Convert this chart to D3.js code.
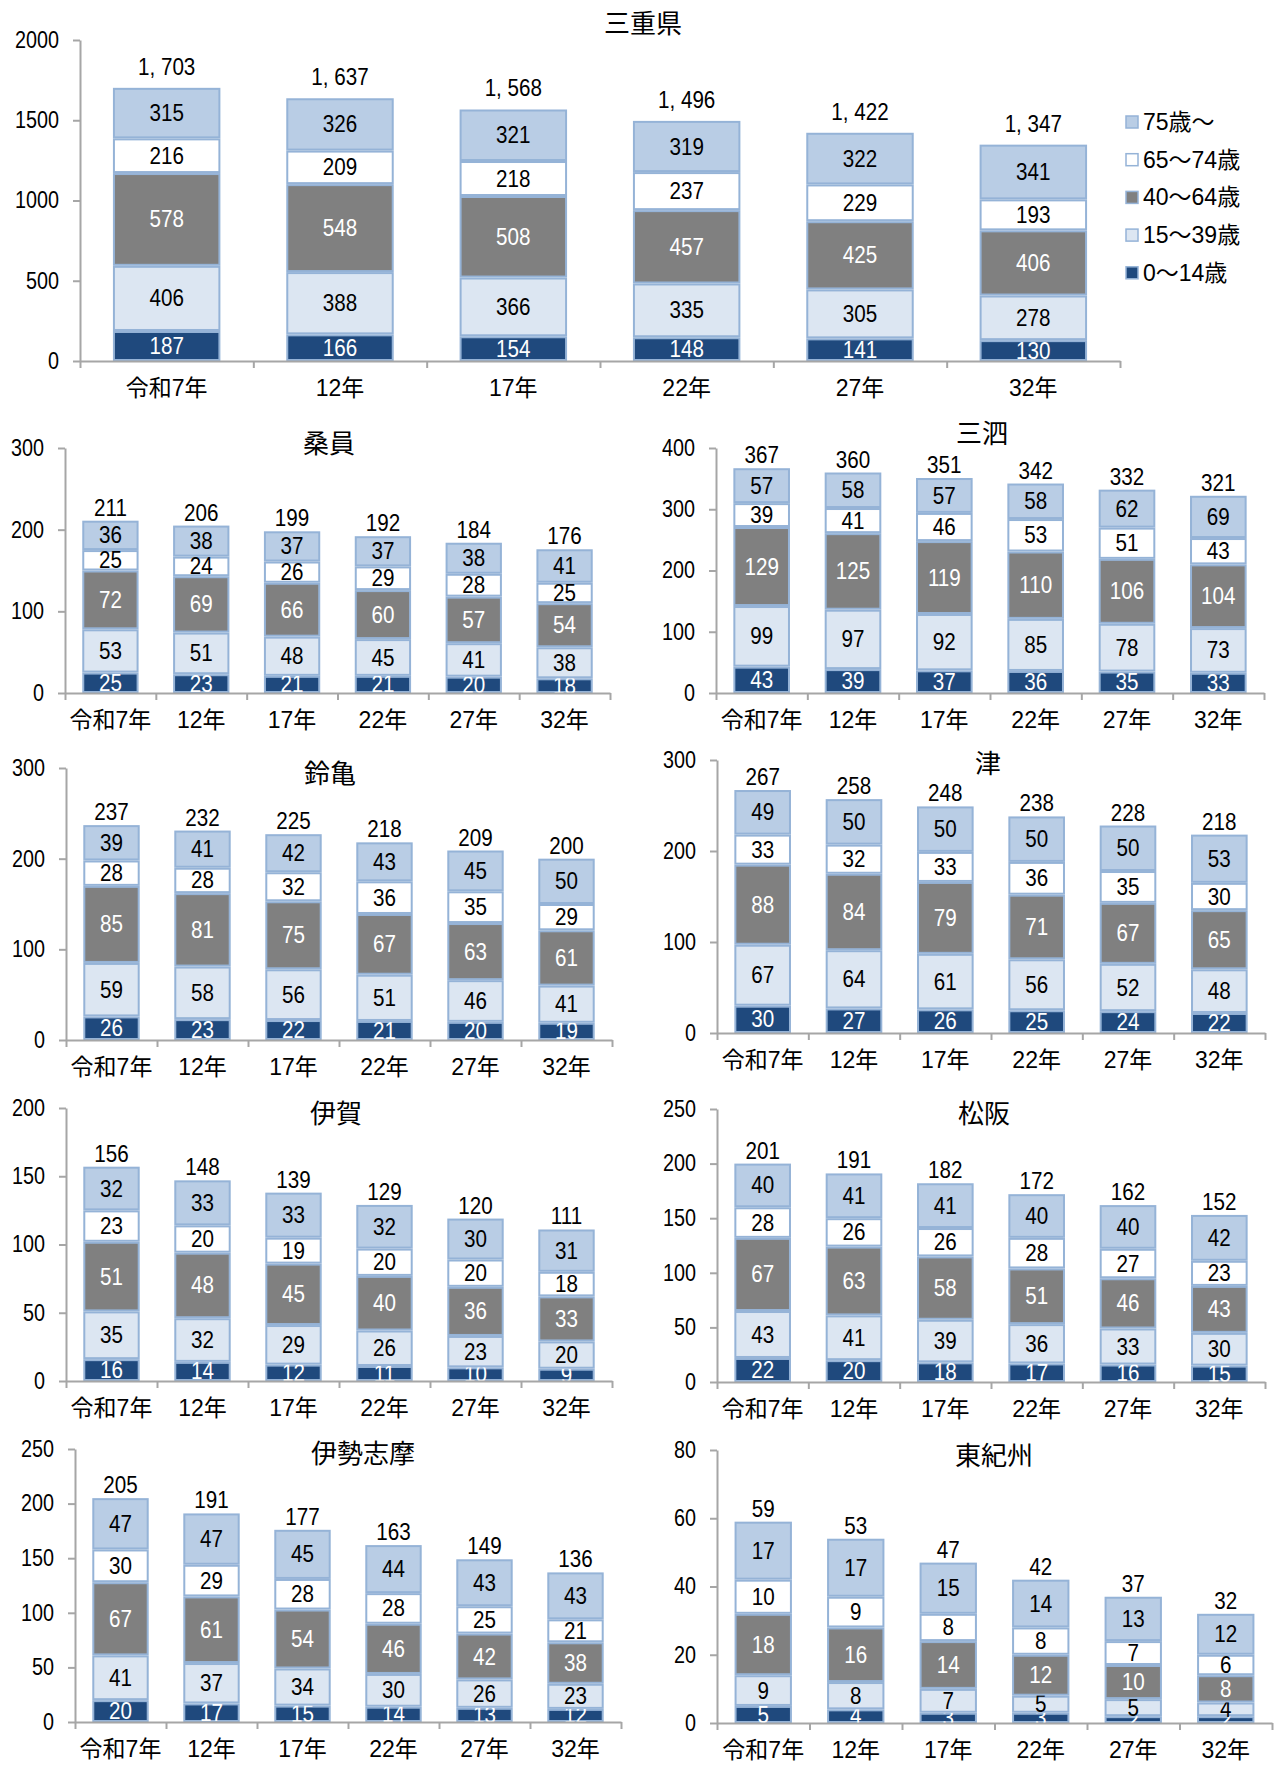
<!DOCTYPE html>
<html>
<head>
<meta charset="utf-8">
<script src="https://cdn.jsdelivr.net/npm/d3@7"></script>
<style>
  body { margin: 0; background: #fff; }
  svg { display: block; }
  text { font-family: "Liberation Sans", "Noto Sans CJK JP", sans-serif; }
</style>
</head>
<body>
<div id="chart"></div>
<script>
// data
const years = ["令和7年", "12年", "17年", "22年", "27年", "32年"];
const ageGroups = ["0～14歳", "15～39歳", "40～64歳", "65～74歳", "75歳～"];
const regions = ["三重県", "桑員", "三泗", "鈴亀", "津", "伊賀", "松阪", "伊勢志摩", "東紀州"];

// one row per region, in the order of regions
const age0_14 = [
  [187, 166, 154, 148, 141, 130],
  [25, 23, 21, 21, 20, 18],
  [43, 39, 37, 36, 35, 33],
  [26, 23, 22, 21, 20, 19],
  [30, 27, 26, 25, 24, 22],
  [16, 14, 12, 11, 10, 9],
  [22, 20, 18, 17, 16, 15],
  [20, 17, 15, 14, 13, 12],
  [5, 4, 3, 3, 2, 2]
];
const age15_39 = [
  [406, 388, 366, 335, 305, 278],
  [53, 51, 48, 45, 41, 38],
  [99, 97, 92, 85, 78, 73],
  [59, 58, 56, 51, 46, 41],
  [67, 64, 61, 56, 52, 48],
  [35, 32, 29, 26, 23, 20],
  [43, 41, 39, 36, 33, 30],
  [41, 37, 34, 30, 26, 23],
  [9, 8, 7, 5, 5, 4]
];
const age40_64 = [
  [578, 548, 508, 457, 425, 406],
  [72, 69, 66, 60, 57, 54],
  [129, 125, 119, 110, 106, 104],
  [85, 81, 75, 67, 63, 61],
  [88, 84, 79, 71, 67, 65],
  [51, 48, 45, 40, 36, 33],
  [67, 63, 58, 51, 46, 43],
  [67, 61, 54, 46, 42, 38],
  [18, 16, 14, 12, 10, 8]
];
const age65_74 = [
  [216, 209, 218, 237, 229, 193],
  [25, 24, 26, 29, 28, 25],
  [39, 41, 46, 53, 51, 43],
  [28, 28, 32, 36, 35, 29],
  [33, 32, 33, 36, 35, 30],
  [23, 20, 19, 20, 20, 18],
  [28, 26, 26, 28, 27, 23],
  [30, 29, 28, 28, 25, 21],
  [10, 9, 8, 8, 7, 6]
];
const age75plus = [
  [315, 326, 321, 319, 322, 341],
  [36, 38, 37, 37, 38, 41],
  [57, 58, 57, 58, 62, 69],
  [39, 41, 42, 43, 45, 50],
  [49, 50, 50, 50, 50, 53],
  [32, 33, 33, 32, 30, 31],
  [40, 41, 41, 40, 40, 42],
  [47, 47, 45, 44, 43, 43],
  [17, 17, 15, 14, 13, 12]
];
const totals = [
  [1703, 1637, 1568, 1496, 1422, 1347],
  [211, 206, 199, 192, 184, 176],
  [367, 360, 351, 342, 332, 321],
  [237, 232, 225, 218, 209, 200],
  [267, 258, 248, 238, 228, 218],
  [156, 148, 139, 129, 120, 111],
  [201, 191, 182, 172, 162, 152],
  [205, 191, 177, 163, 149, 136],
  [59, 53, 47, 42, 37, 32]
];
const yMax = [2000, 300, 400, 300, 300, 200, 250, 250, 80];
const yStep = [500, 100, 100, 100, 100, 50, 50, 50, 20];

// layout of each panel (plot area and title position)
const panels = [
  {x0: 80,  x1: 1120, top: 40,   bot: 361,  tx: 643, ty: 33,   gap: 13},
  {x0: 65,  x1: 610,  top: 448,  bot: 693,  tx: 329, ty: 453,  gap: 5},
  {x0: 716, x1: 1264, top: 448,  bot: 693,  tx: 982, ty: 443,  gap: 5},
  {x0: 66,  x1: 612,  top: 768,  bot: 1040, tx: 330, ty: 783,  gap: 5},
  {x0: 717, x1: 1265, top: 760,  bot: 1033, tx: 988, ty: 773,  gap: 5},
  {x0: 66,  x1: 612,  top: 1108, bot: 1381, tx: 336, ty: 1123, gap: 5},
  {x0: 717, x1: 1265, top: 1109, bot: 1382, tx: 984, ty: 1123, gap: 5},
  {x0: 75,  x1: 621,  top: 1449, bot: 1722, tx: 363, ty: 1463, gap: 5},
  {x0: 717, x1: 1272, top: 1450, bot: 1723, tx: 994, ty: 1465, gap: 5}
];

const colors = ["#1F497D", "#DCE6F2", "#808080", "#FFFFFF", "#B9CDE5"];
const labelColors = ["#fff", "#000", "#fff", "#000", "#000"];
const barStroke = "#95B3D7";
const axisColor = "#A6A6A6";
const fs = 24;
const sx = 0.86; // narrow digits like the original font

const svg = d3.select("#chart").append("svg")
  .attr("width", 1277)
  .attr("height", 1765);

const series = [age0_14, age15_39, age40_64, age65_74, age75plus];

regions.forEach((name, r) => {
  const p = panels[r];
  const rows = years.map((yr, i) => {
    const o = {year: yr};
    ageGroups.forEach((k, j) => { o[k] = series[j][r][i]; });
    return o;
  });
  const stacked = d3.stack().keys(ageGroups)(rows);

  const x = d3.scaleBand().domain(years).range([p.x0, p.x1])
    .paddingInner(0.38).paddingOuter(0.19);
  const y = d3.scaleLinear().domain([0, yMax[r]]).range([p.bot, p.top]);
  const xb = d3.scaleLinear().domain([0, years.length]).range([p.x0, p.x1]);

  const g = svg.append("g").attr("class", "panel");

  // bars
  stacked.forEach((s, j) => {
    const sg = g.append("g");
    sg.selectAll("rect").data(s).enter().append("rect")
      .attr("x", d => x(d.data.year) + 1)
      .attr("y", d => y(d[1]) + 1)
      .attr("width", x.bandwidth() - 2)
      .attr("height", d => Math.max(0, y(d[0]) - y(d[1]) - 2))
      .attr("fill", colors[j])
      .attr("stroke", barStroke)
      .attr("stroke-width", 2);
    sg.selectAll("text").data(s).enter().append("text")
      .attr("transform", d => `translate(${x(d.data.year) + x.bandwidth() / 2},${(y(d[0]) + y(d[1])) / 2}) scale(${sx},1)`)
      .attr("text-anchor", "middle")
      .attr("dominant-baseline", "central")
      .attr("font-size", fs)
      .attr("fill", labelColors[j])
      .text(d => d[1] - d[0]);
  });

  // totals above bars
  g.append("g").selectAll("text").data(totals[r]).enter().append("text")
    .attr("transform", (d, i) => `translate(${x(years[i]) + x.bandwidth() / 2},${y(stacked[4][i][1]) - p.gap}) scale(${sx},1)`)
    .attr("text-anchor", "middle")
    .attr("font-size", fs)
    .text(d => d3.format(",")(d).replace(",", ", "));

  // y axis
  const ya = g.append("g")
    .attr("transform", `translate(${p.x0},0)`)
    .call(d3.axisLeft(y)
      .tickValues(d3.range(0, yMax[r] + 1, yStep[r]))
      .tickFormat(d3.format("d"))
      .tickSize(7).tickSizeOuter(0).tickPadding(14));
  ya.selectAll(".tick text")
    .attr("x", -21 / sx)
    .attr("transform", `scale(${sx},1)`);

  // x axis: boundary ticks and labels
  const xa = g.append("g")
    .attr("transform", `translate(0,${p.bot})`)
    .call(d3.axisBottom(xb).tickValues(d3.range(0, years.length + 1))
      .tickFormat("").tickSize(7).tickSizeOuter(0));
  const xl = g.append("g")
    .attr("transform", `translate(0,${p.bot})`)
    .call(d3.axisBottom(x).tickSize(0).tickPadding(19));
  xl.select(".domain").remove();

  [ya, xa].forEach(a => {
    a.select(".domain").attr("stroke", axisColor).attr("stroke-width", 2);
    a.selectAll(".tick line").attr("stroke", axisColor).attr("stroke-width", 2);
  });
  [ya, xl].forEach(a => {
    a.attr("font-family", null).attr("font-size", null);
    a.selectAll("text")
      .attr("font-size", fs - 1)
      .attr("fill", "#000");
  });

  // title
  g.append("text")
    .attr("x", p.tx)
    .attr("y", p.ty)
    .attr("text-anchor", "middle")
    .attr("font-size", 26)
    .style("font-family", '"Noto Sans CJK JP", sans-serif')
    .text(name);
});

// legend (top chart)
const legendOrder = [4, 3, 2, 1, 0];
const lg = svg.append("g").attr("transform", "translate(1126,122)");
legendOrder.forEach((j, k) => {
  const item = lg.append("g").attr("transform", `translate(0,${k * 37.7})`);
  item.append("rect")
    .attr("x", 0).attr("y", -6)
    .attr("width", 12).attr("height", 12)
    .attr("fill", colors[j])
    .attr("stroke", barStroke)
    .attr("stroke-width", 1.5);
  item.append("text")
    .attr("x", 17)
    .attr("y", 0)
    .attr("dominant-baseline", "central")
    .attr("font-size", fs - 1)
    .text(ageGroups[j]);
});
</script>
</body>
</html>
